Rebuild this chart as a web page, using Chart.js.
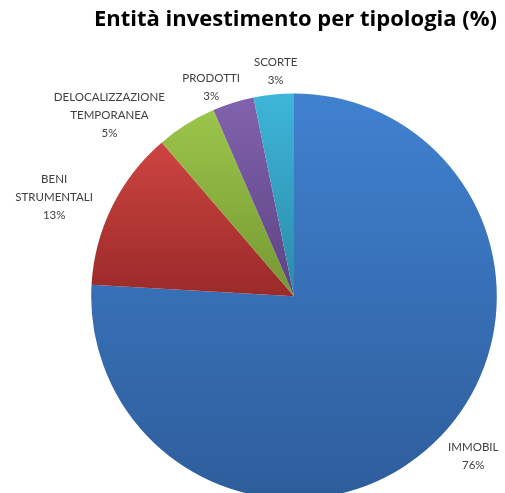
<!DOCTYPE html>
<html>
<head>
<meta charset="utf-8">
<script src="https://cdn.jsdelivr.net/npm/chart.js@4/dist/chart.umd.min.js"></script>
<style>
  html, body { margin: 0; padding: 0; background: #fff; overflow: hidden; }
  #wrap { width: 505px; height: 510px; }
</style>
</head>
<body>
<div id="wrap"><canvas id="myChart"></canvas></div>
<script>
// data
const categories = ['IMMOBIL', 'BENI STRUMENTALI', 'DELOCALIZZAZIONE TEMPORANEA', 'PRODOTTI', 'SCORTE'];
const labelLines = [['IMMOBIL'], ['BENI', 'STRUMENTALI'], ['DELOCALIZZAZIONE', 'TEMPORANEA'], ['PRODOTTI'], ['SCORTE']];
const shares = [75.9, 12.8, 4.8, 3.3, 3.2];

const topColors = ['#4081d0', '#cd4441', '#9cc54b', '#8163ad', '#3eb5d9'];
const bottomColors = ['#2e5d9b', '#9a2a29', '#759832', '#5c4284', '#2a8ba8'];
// nudge of each label from the arc edge at the slice's middle angle
const labelNudge = [[40, 13], [-58, -9], [-77, -9], [-22, -15], [2, -23]];

const total = shares.reduce((a, b) => a + b, 0);

// vertical extent of a slice, for its own gradient
function sliceYRange(i, cy, r) {
    let before = 0;
    for (let k = 0; k < i; k++) before += shares[k];
    const a0 = -Math.PI / 2 + before / total * 2 * Math.PI;
    const a1 = a0 + shares[i] / total * 2 * Math.PI;
    let ys = [cy, cy + r * Math.sin(a0), cy + r * Math.sin(a1)];
    for (let a = -Math.PI / 2; a < 4 * Math.PI; a += Math.PI) {
        if (a > a0 && a < a1) ys.push(cy + r * Math.sin(a));
    }
    return [Math.min(...ys), Math.max(...ys)];
}

const sliceLabels = {
    id: 'sliceLabels',
    afterDatasetsDraw(chart) {
        const ctx = chart.ctx;
        const arcs = chart.getDatasetMeta(0).data;
        ctx.save();
        ctx.font = '11.5px Lato';
        ctx.fillStyle = '#404040';
        ctx.textAlign = 'center';
        ctx.textBaseline = 'middle';
        arcs.forEach((arc, i) => {
            const mid = (arc.startAngle + arc.endAngle) / 2;
            const x = arc.x + Math.cos(mid) * arc.outerRadius + labelNudge[i][0];
            const y = arc.y + Math.sin(mid) * arc.outerRadius + labelNudge[i][1];
            const lines = labelLines[i].concat([Math.round(shares[i] / total * 100) + '%']);
            const lh = 18;
            const y0 = y - (lines.length - 1) * lh / 2;
            lines.forEach((t, j) => ctx.fillText(t, x, y0 + j * lh));
        });
        ctx.restore();
    }
};

const ctx = document.getElementById('myChart').getContext('2d');
const myChart = new Chart(ctx, {
    type: 'pie',
    data: {
        labels: categories,
        datasets: [{
            data: shares,
            borderWidth: 0,
            backgroundColor: (c) => {
                const area = c.chart.chartArea;
                if (!area) return topColors[c.dataIndex];
                const cx = (area.left + area.right) / 2;
                const cy = (area.top + area.bottom) / 2;
                const r = Math.min(area.right - area.left, area.bottom - area.top) / 2;
                const [y0, y1] = sliceYRange(c.dataIndex, cy, r);
                const g = c.chart.ctx.createLinearGradient(0, y0, 0, y1);
                g.addColorStop(0, topColors[c.dataIndex]);
                g.addColorStop(1, bottomColors[c.dataIndex]);
                return g;
            }
        }]
    },
    options: {
        responsive: true,
        maintainAspectRatio: false,
        animation: false,
        layout: { padding: { left: 91, right: 8, top: 0, bottom: 11 } },
        plugins: {
            legend: { display: false },
            tooltip: { enabled: false },
            title: {
                display: true,
                text: 'Entità investimento per tipologia (%)',
                align: 'end',
                color: '#000',
                font: { family: 'Open Sans', size: 22, weight: 'bold' },
                padding: { top: 7, bottom: 60 }
            }
        }
    },
    plugins: [sliceLabels]
});
</script>
</body>
</html>
